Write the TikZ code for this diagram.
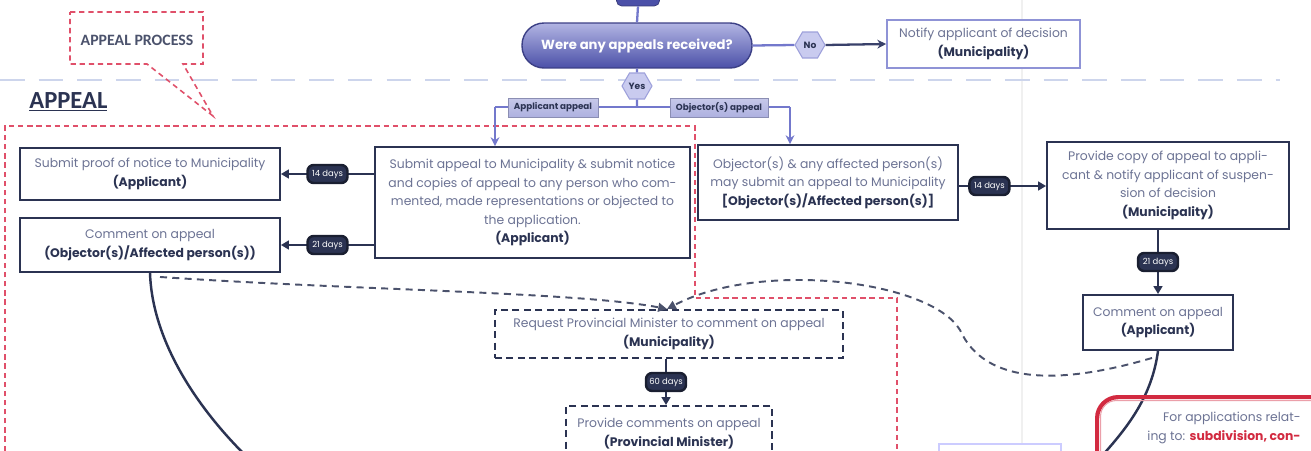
\documentclass[tikz,border=0pt]{standalone}
\usepackage{fontspec}
\setmainfont{Poppins}
\newfontfamily\calib{Carlito}
\usetikzlibrary{shapes.geometric,arrows.meta,calc}
\definecolor{navy}{HTML}{2B3352}
\definecolor{txt}{HTML}{6C7394}
\definecolor{pur}{HTML}{7378CC}
\definecolor{pilld}{HTML}{4B50A8}
\definecolor{redd}{HTML}{E0506A}
\definecolor{sep}{HTML}{CDD5EC}
\definecolor{hexf}{HTML}{C9CBEF}
\definecolor{redb}{HTML}{D22A40}
\definecolor{labf}{HTML}{AEB1E0}
\newcommand{\fs}{\fontsize{7.05}{10.5}\selectfont}
\newcommand{\fb}{\fontsize{4.8}{5}\selectfont}
\newcommand{\who}[1]{{\color{navy}\bfseries #1}}
\tikzset{
  box/.style={draw=navy, line width=1.1pt, fill=white, align=center, inner sep=1pt, font=\fs, text=txt},
  dbox/.style={box, dash pattern=on 4pt off 2.5pt},
  badge/.style={fill=navy, draw=navy!60!black, rounded corners=3.5pt, text=white, font=\fb, minimum width=0.8cm, minimum height=0.36cm, inner sep=0pt},
  hexa/.style={regular polygon, regular polygon sides=6, fill=hexf, draw=pur!70, line width=0.6pt, minimum size=0.6cm, inner sep=0pt, font=\fontsize{5.2}{5}\selectfont\bfseries, text=navy},
  lab/.style={top color=labf!70, bottom color=labf, draw=labf!80!black, line width=0.3pt, text=navy, font=\fontsize{5}{5}\selectfont\bfseries, inner sep=0pt, minimum height=0.38cm},
  arr/.style={draw=navy, line width=1.4pt, -{Triangle[length=4.5pt,width=5pt]}},
  parr/.style={draw=pur, line width=1.3pt, -{Stealth[length=5pt,width=5pt]}},
  pline/.style={draw=pur, line width=1.3pt},
  reddash/.style={draw=redd, line width=0.9pt, dash pattern=on 3pt off 2.2pt},
  dcurve/.style={draw=navy!85, line width=1.1pt, dash pattern=on 4pt off 3pt},
  scurve/.style={draw=navy, line width=1.4pt},
}
\begin{document}
\begin{tikzpicture}[x=0.02cm,y=-0.02cm]
\useasboundingbox (0,0) rectangle (1311,450);
\clip (0,0) rectangle (1311,450);
\fill[white] (0,0) rectangle (1311,450);

% faint page fold
\draw[black!6, line width=0.8pt] (1022,0) -- (1022,450);

% separator
\draw[sep, line width=1.6pt, dash pattern=on 14pt off 8pt] (0,80) -- (1280,80);

% red dashed region
\draw[reddash] (5,460) -- (5,126) -- (695,126) -- (695,298) -- (897,298) -- (897,460);

% callout
\draw[reddash] (70,12) -- (203,12) -- (203,64) -- (183,64) -- (213,116) -- (147,64) -- (70,64) -- cycle;
\node[font=\calib\fontsize{9}{9}\selectfont\bfseries, text=navy!85] (ap) at (137,40) {APPEAL PROCESS};
\node[font=\calib\fontsize{14}{14}\selectfont\bfseries, text=navy, inner sep=0pt, anchor=west] (appeal) at (29,102) {\underline{APPEAL}};

% top part
\node[fill=pilld, draw=pilld!70!black, rounded corners=3pt, minimum width=0.86cm, minimum height=0.4cm] (topb) at (638,-4) {};
\node[top color=pur!55, bottom color=pilld, draw=pilld!80!black, line width=0.8pt, rounded corners=0.44cm, minimum width=4.6cm, minimum height=0.9cm, text=white, font=\fontsize{7.5}{7}\selectfont\bfseries] (pill) at (637,45.5) {Were any appeals received?};
\node[hexa] (no) at (810,45) {No};
\node[hexa] (yes) at (637,86) {Yes};
\node[draw=pur!80, line width=1pt, fill=white, minimum width=3.86cm, minimum height=0.96cm, align=center, font=\fs, text=txt] (notify) at (983.5,44) {Notify applicant of decision\\ \who{(Municipality)}};
\draw[pline] (topb.south) -- (pill.north);
\draw[pline] (pill.east) -- (no.west);
\draw[draw=navy!80!pur, line width=1.3pt, -{Stealth[length=5pt,width=5pt]}] (no.east) -- (notify.west);
\draw[pline] (pill.south) -- (yes.north);
\coordinate (jn) at (637,107);
\coordinate (jl) at (495,107);
\coordinate (jr) at (790,107);
\draw[pline] (yes.south) -- (jn);
\draw[pline] (jl) -- (jr);

% boxes
\node[box, minimum width=5.2cm, minimum height=1.04cm] (proof) at (150,174) {Submit proof of notice to Municipality\\ \who{(Applicant)}};
\node[box, minimum width=5.2cm, minimum height=1.08cm] (cobj) at (150,245) {Comment on appeal\\ \who{(Objector(s)/Affected person(s))}};
\node[box, minimum width=6.3cm, minimum height=2.22cm] (main) at (532.5,202.5) {Submit appeal to Municipality \& submit notice\\ and copies of appeal to any person who com-\\ mented, made representations or objected to\\ the application.\\ \who{(Applicant)}};
\node[box, minimum width=5.2cm, minimum height=1.5cm] (obj) at (828,182.5) {Objector(s) \& any affected person(s)\\ may submit an appeal to Municipality\\ \who{[Objector(s)/Affected person(s)]}};
\node[box, minimum width=4.84cm, minimum height=1.74cm] (prov) at (1168,185.5) {Provide copy of appeal to appli-\\ cant \& notify applicant of suspen-\\ sion of decision\\ \who{(Municipality)}};
\node[box, minimum width=3cm, minimum height=1.1cm] (capp) at (1158,322.5) {Comment on appeal\\ \who{(Applicant)}};
\node[dbox, minimum width=6.96cm, minimum height=0.96cm] (req) at (669,334) {Request Provincial Minister to comment on appeal\\ \who{(Municipality)}};
\node[dbox, minimum width=4.12cm, minimum height=1.1cm, anchor=north] (pcm) at (669,405) {Provide comments on appeal\\ \who{(Provincial Minister)}};

% labels on appeal split
\node[lab, minimum width=1.8cm] (la) at (553,107.5) {Applicant appeal};
\node[lab, minimum width=1.96cm] (lo) at (719,107.5) {Objector(s) appeal};
\draw[parr] (jl) -- (jl |- main.north);
\draw[parr] (jr) -- (jr |- obj.north);

% day connectors
\draw[arr] (main.west |- proof) -- node[badge]{14 days} (proof.east);
\draw[arr] (main.west |- cobj) -- node[badge]{21 days} (cobj.east);
\draw[arr] (obj.east |- 0,186) -- node[badge, pos=0.35]{14 days} (prov.west |- 0,186);
\draw[arr] (prov.south -| capp.north) -- node[badge]{21 days} (capp.north);
\draw[arr] (req.south -| 666,0) -- node[badge]{60 days} (pcm.north -| 666,0);

% dashed curves
\coordinate (rq) at (667,309);
\draw[dcurve, -{Triangle[length=5pt,width=5pt]}] ($(cobj.south)+(10,4)$) .. controls (350,290) and (580,292) .. (rq);
\draw[dcurve, -{Triangle[length=5pt,width=5pt]}] ($(capp.south)+(-6,7)$) .. controls (1060,385) and (985,385) .. (960,330) .. controls (930,280) and (760,260) .. (rq);

% solid curves
\draw[scurve] (cobj.south) .. controls (152,335) and (190,400) .. (245,455);
\draw[scurve] (capp.south) .. controls (1152,395) and (1130,425) .. (1100,458);

% red box
\node[draw=redb, line width=2.4pt, rounded corners=12pt, minimum width=4.8cm, minimum height=2.4cm, anchor=north west] (fa) at (1095,395) {};
\node[draw=redb!45, line width=0.6pt, rounded corners=9pt, minimum width=4.6cm, minimum height=2.2cm, anchor=north west] (fai) at (1100,400) {};
\node[font=\fs, text=txt, align=right, anchor=north east, inner sep=0pt] (fat) at (1301,412) {For applications relat-\\ ing to: {\color{redb}\bfseries subdivision, con-}};

% light blue partial box
\node[draw=blue!20, fill=white, line width=1.2pt, minimum width=2.44cm, minimum height=1cm, anchor=north west] (lb) at (938,443) {};
\end{tikzpicture}
\end{document}
